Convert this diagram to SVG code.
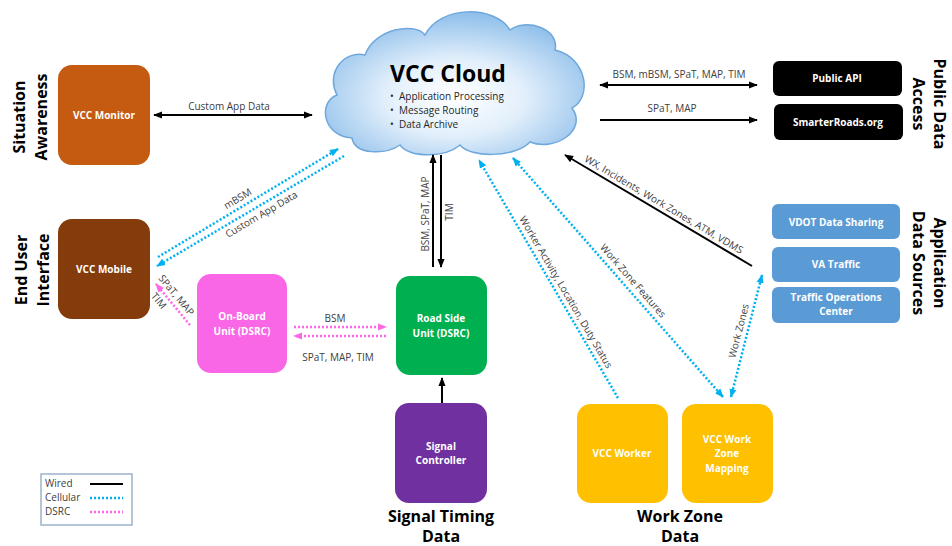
<svg xmlns="http://www.w3.org/2000/svg" width="952" height="546" viewBox="0 0 952 546">
<defs>
<style>
.lbl{font-family:"Open Sans","DejaVu Sans",sans-serif;font-size:10px;fill:#404040}
.nd{font-family:"Open Sans","DejaVu Sans",sans-serif;font-size:10px;font-weight:bold;fill:#fff;text-anchor:middle}
.side{font-family:"Open Sans","DejaVu Sans",sans-serif;font-size:16px;font-weight:bold;fill:#000;text-anchor:middle}
.wire{stroke:#000;stroke-width:2;fill:none}
.cell{stroke:#00B0F0;stroke-width:2.5;stroke-dasharray:2 2;fill:none}
.dsrc{stroke:#FF66E6;stroke-width:2.5;stroke-dasharray:2 2;fill:none}
</style>
<marker id="ab" viewBox="0 0 10 10" refX="9" refY="5" markerWidth="9" markerHeight="9" markerUnits="userSpaceOnUse" orient="auto-start-reverse"><path d="M0,1 L10,5 L0,9 z" fill="#000"/></marker>
<marker id="ac" viewBox="0 0 10 10" refX="9" refY="5" markerWidth="9" markerHeight="9" markerUnits="userSpaceOnUse" orient="auto-start-reverse"><path d="M0,1 L10,5 L0,9 z" fill="#00B0F0"/></marker>
<marker id="ap" viewBox="0 0 10 10" refX="9" refY="5" markerWidth="9" markerHeight="9" markerUnits="userSpaceOnUse" orient="auto-start-reverse"><path d="M0,1 L10,5 L0,9 z" fill="#FF66E6"/></marker>
<radialGradient id="cg" cx="0.5" cy="0.6" r="0.6">
<stop offset="0" stop-color="#FFFFFF"/>
<stop offset="0.45" stop-color="#E2EFFB"/>
<stop offset="1" stop-color="#8DBEEA"/>
</radialGradient>
</defs>
<rect width="952" height="546" fill="#fff"/>

<!-- side labels -->
<g id="lbl-situation">
<text class="side" transform="translate(25,117) rotate(-90)"><tspan x="0" y="0">Situation</tspan><tspan x="0" y="22">Awareness</tspan></text>
</g>
<g id="lbl-enduser">
<text class="side" transform="translate(27,270) rotate(-90)"><tspan x="0" y="0">End User</tspan><tspan x="0" y="22">Interface</tspan></text>
</g>
<g id="lbl-public">
<text class="side" transform="translate(934,104) rotate(90)"><tspan x="0" y="0">Public Data</tspan><tspan x="0" y="21">Access</tspan></text>
</g>
<g id="lbl-appdata">
<text class="side" transform="translate(934,263) rotate(90)"><tspan x="0" y="0">Application</tspan><tspan x="0" y="21">Data Sources</tspan></text>
</g>
<g id="lbl-signal">
<text class="side" x="441" y="522">Signal Timing</text>
<text class="side" x="441" y="542">Data</text>
</g>
<g id="lbl-workzone">
<text class="side" x="680" y="522">Work Zone</text>
<text class="side" x="680" y="542">Data</text>
</g>

<!-- cloud -->
<g id="cloud">
<path d="M352,138 C322,136 318,102 337,95 C325,72 345,50 365,55 C375,28 415,22 425,35 C440,5 495,5 510,30 C525,18 560,28 555,50 C588,58 592,98 572,108 C588,130 555,152 530,142 C515,158 470,158 460,145 C445,158 410,158 400,145 C385,155 355,155 352,138 Z" fill="url(#cg)" stroke="#6FA8DC" stroke-width="1.5"/>
<text x="448" y="82" font-family="Open Sans, DejaVu Sans, sans-serif" font-size="23" font-weight="bold" fill="#000" text-anchor="middle">VCC Cloud</text>
<g font-family="Open Sans, DejaVu Sans, sans-serif" font-size="10" fill="#262626">
<text x="390" y="100">•</text><text x="399" y="100">Application Processing</text>
<text x="390" y="114">•</text><text x="399" y="114">Message Routing</text>
<text x="390" y="128">•</text><text x="399" y="128">Data Archive</text>
</g>
</g>

<!-- nodes -->
<g id="vcc-monitor"><rect x="58" y="65" width="92" height="100" rx="14" fill="#C55A11"/><text class="nd" x="104" y="119">VCC Monitor</text></g>
<g id="vcc-mobile"><rect x="58" y="219" width="92" height="100" rx="14" fill="#843C0C"/><text class="nd" x="104" y="273">VCC Mobile</text></g>
<g id="obu"><rect x="197" y="274" width="90" height="99" rx="14" fill="#F966E6"/><text class="nd" x="242" y="320">On-Board</text><text class="nd" x="242" y="335">Unit (DSRC)</text></g>
<g id="rsu"><rect x="396" y="276" width="91" height="99" rx="14" fill="#00B050"/><text class="nd" x="441" y="322">Road Side</text><text class="nd" x="441" y="337">Unit (DSRC)</text></g>
<g id="signal-controller"><rect x="395" y="403" width="92" height="100" rx="14" fill="#7030A0"/><text class="nd" x="441" y="450">Signal</text><text class="nd" x="441" y="464">Controller</text></g>
<g id="vcc-worker"><rect x="577" y="404" width="91" height="99" rx="14" fill="#FFC000"/><text class="nd" x="622" y="457">VCC Worker</text></g>
<g id="vcc-wz-mapping"><rect x="682" y="404" width="91" height="99" rx="14" fill="#FFC000"/><text class="nd" x="727" y="443">VCC Work</text><text class="nd" x="727" y="457">Zone</text><text class="nd" x="727" y="472">Mapping</text></g>
<g id="public-api"><rect x="773" y="61" width="129" height="35" rx="6" fill="#000"/><text class="nd" x="837" y="82">Public API</text></g>
<g id="smarterroads"><rect x="774" y="104" width="129" height="36" rx="6" fill="#000"/><text class="nd" x="838" y="126">SmarterRoads.org</text></g>
<g id="vdot"><rect x="772" y="204" width="128" height="35" rx="6" fill="#5B9BD5"/><text class="nd" x="836" y="226">VDOT Data Sharing</text></g>
<g id="va-traffic"><rect x="772" y="247" width="128" height="35" rx="6" fill="#5B9BD5"/><text class="nd" x="836" y="268">VA Traffic</text></g>
<g id="toc"><rect x="772" y="287" width="128" height="36" rx="6" fill="#5B9BD5"/><text class="nd" x="836" y="301">Traffic Operations</text><text class="nd" x="836" y="315">Center</text></g>

<!-- connectors -->
<g id="connectors">
<line class="wire" x1="154" y1="115" x2="312" y2="115" marker-start="url(#ab)" marker-end="url(#ab)"/>
<text class="lbl" x="229" y="110" text-anchor="middle">Custom App Data</text>

<line class="wire" x1="600" y1="85" x2="757" y2="85" marker-start="url(#ab)" marker-end="url(#ab)"/>
<text class="lbl" x="679" y="78" text-anchor="middle">BSM, mBSM, SPaT, MAP, TIM</text>
<line class="wire" x1="600" y1="120" x2="757" y2="120" marker-end="url(#ab)"/>
<text class="lbl" x="672" y="112" text-anchor="middle">SPaT, MAP</text>

<line class="wire" x1="752" y1="266" x2="565" y2="155" marker-end="url(#ab)"/>
<text class="lbl" transform="translate(660,211) rotate(30.7)" x="0" y="-4" text-anchor="middle">WX, Incidents, Work Zones, ATM, VDMS</text>

<line class="cell" x1="158" y1="257" x2="338" y2="149" marker-end="url(#ac)"/>
<line class="cell" x1="344" y1="156" x2="157" y2="266" marker-end="url(#ac)"/>
<text class="lbl" transform="translate(242,206) rotate(-31)" x="0" y="-5" text-anchor="middle">mBSM</text>
<text class="lbl" transform="translate(257,207) rotate(-30.5)" x="0" y="12" text-anchor="middle">Custom App Data</text>

<line class="dsrc" x1="190" y1="325" x2="156" y2="284" marker-end="url(#ap)"/>
<g transform="translate(156,284) rotate(50.3)">
<text class="lbl" x="-3" y="-5">SPaT, MAP</text>
<text class="lbl" x="6" y="12">TIM</text>
</g>

<line class="dsrc" x1="294" y1="327" x2="386" y2="327" marker-end="url(#ap)"/>
<line class="dsrc" x1="386" y1="336" x2="294" y2="336" marker-end="url(#ap)"/>
<text class="lbl" x="335" y="322" text-anchor="middle">BSM</text>
<text class="lbl" x="338" y="361" text-anchor="middle">SPaT, MAP, TIM</text>

<line class="wire" x1="433" y1="267" x2="433" y2="155" marker-end="url(#ab)"/>
<line class="wire" x1="441" y1="155" x2="441" y2="267" marker-end="url(#ab)"/>
<text class="lbl" transform="translate(429,214) rotate(-90)" x="0" y="0" text-anchor="middle">BSM, SPaT, MAP</text>
<text class="lbl" transform="translate(453,212) rotate(-90)" x="0" y="0" text-anchor="middle">TIM</text>

<line class="wire" x1="442" y1="403" x2="442" y2="378" marker-end="url(#ab)"/>

<line class="cell" x1="618" y1="398" x2="479" y2="160" marker-end="url(#ac)"/>
<text class="lbl" transform="translate(558.6,296.4) rotate(59.7)" x="0" y="-5" text-anchor="middle">Worker Activity, Location, Duty Status</text>

<line class="cell" x1="513" y1="158" x2="723" y2="397" marker-start="url(#ac)" marker-end="url(#ac)"/>
<text class="lbl" transform="translate(626,287) rotate(48.7)" x="0" y="-6" text-anchor="middle">Work Zone Features</text>

<line class="cell" x1="731" y1="397" x2="762" y2="275" marker-start="url(#ac)" marker-end="url(#ac)"/>
<text class="lbl" transform="translate(747,333) rotate(-75.6)" x="0" y="-5" text-anchor="middle">Work Zones</text>
</g>

<!-- legend -->
<g id="legend">
<rect x="41" y="474" width="91" height="51" fill="#fff" stroke="#9DB3CC" stroke-width="1.5"/>
<text class="lbl" x="45" y="487">Wired</text>
<line x1="90" y1="484" x2="123" y2="484" stroke="#000" stroke-width="2"/>
<text class="lbl" x="45" y="501">Cellular</text>
<line class="cell" x1="90" y1="498" x2="123" y2="498" stroke-width="2"/>
<text class="lbl" x="45" y="515">DSRC</text>
<line class="dsrc" x1="90" y1="512" x2="123" y2="512" stroke-width="2"/>
</g>
</svg>
